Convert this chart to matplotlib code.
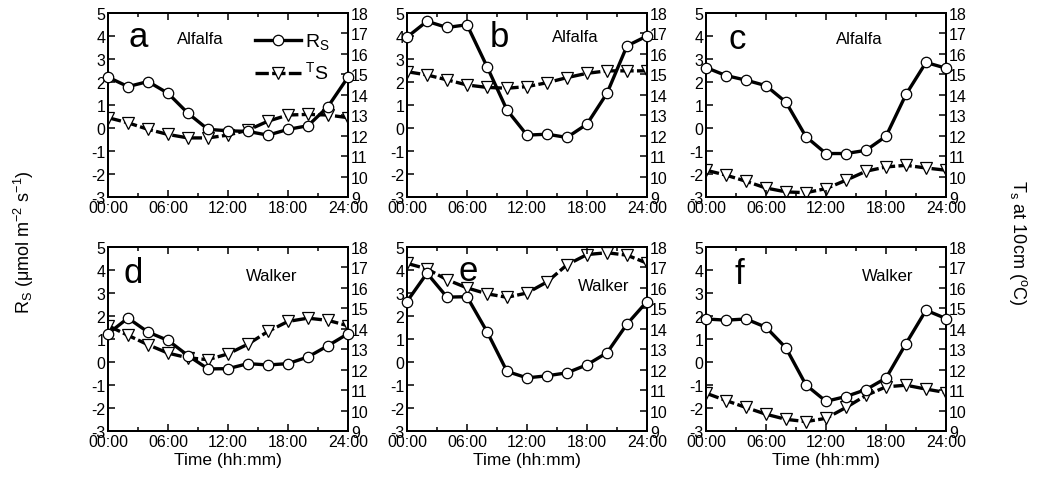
import matplotlib
matplotlib.use('Agg')
import matplotlib.pyplot as plt
from matplotlib.ticker import MultipleLocator, FixedLocator

plt.rcParams['font.family'] = ['Liberation Sans', 'DejaVu Sans']
plt.rcParams['mathtext.fontset'] = 'custom'
plt.rcParams['mathtext.rm'] = 'Liberation Sans'
plt.rcParams['axes.unicode_minus'] = False

hours = [0, 2, 4, 6, 8, 10, 12, 14, 16, 18, 20, 22, 24]
time_labels = ['00:00', '06:00', '12:00', '18:00', '24:00']
panel_letters = ['a', 'b', 'c', 'd', 'e', 'f']
site_names = ['Alfalfa', 'Alfalfa', 'Alfalfa', 'Walker', 'Walker', 'Walker']

# soil respiration (umol m-2 s-1)
rs_a = [2.21, 1.80, 2.02, 1.51, 0.64, -0.06, -0.12, -0.15, -0.31, -0.06, 0.10, 0.93, 2.21]
rs_b = [3.95, 4.64, 4.37, 4.49, 2.67, 0.78, -0.31, -0.27, -0.41, 0.17, 1.51, 3.57, 4.00]
rs_c = [2.63, 2.28, 2.08, 1.84, 1.12, -0.38, -1.11, -1.11, -0.97, -0.36, 1.46, 2.85, 2.60]
rs_d = [1.23, 1.91, 1.30, 0.94, 0.28, -0.30, -0.29, -0.07, -0.13, -0.07, 0.22, 0.71, 1.23]
rs_e = [2.63, 3.86, 2.82, 2.84, 1.32, -0.41, -0.69, -0.60, -0.47, -0.12, 0.40, 1.65, 2.63]
rs_f = [1.87, 1.82, 1.87, 1.51, 0.61, -1.00, -1.71, -1.50, -1.20, -0.70, 0.80, 2.25, 1.89]

# soil temperature at 10 cm (deg C)
ts_a = [12.88, 12.63, 12.31, 12.06, 11.89, 11.89, 12.03, 12.27, 12.71, 13.01, 13.04, 13.01, 12.88]
ts_b = [15.13, 14.97, 14.73, 14.48, 14.36, 14.32, 14.40, 14.59, 14.84, 15.05, 15.17, 15.17, 15.17]
ts_c = [10.31, 10.07, 9.77, 9.44, 9.25, 9.21, 9.41, 9.82, 10.26, 10.47, 10.55, 10.42, 10.31]
ts_d = [14.15, 13.68, 13.22, 12.81, 12.58, 12.49, 12.77, 13.25, 13.87, 14.36, 14.52, 14.41, 14.15]
ts_e = [17.20, 16.93, 16.40, 16.00, 15.71, 15.54, 15.75, 16.29, 17.13, 17.63, 17.72, 17.60, 17.21]
ts_f = [10.85, 10.49, 10.15, 9.82, 9.57, 9.46, 9.62, 10.15, 10.74, 11.16, 11.24, 11.05, 10.88]

rs_all = [rs_a, rs_b, rs_c, rs_d, rs_e, rs_f]
ts_all = [ts_a, ts_b, ts_c, ts_d, ts_e, ts_f]

# letter / site label positions in axes fraction
letter_pos = [(0.125, 0.82), (0.386, 0.82), (0.128, 0.81), (0.104, 0.81), (0.257, 0.82), (0.14, 0.805)]
site_pos = [(0.385, 0.836), (0.70, 0.847), (0.64, 0.836), (0.683, 0.818), (0.82, 0.768), (0.755, 0.822)]

fig = plt.figure(figsize=(10.46, 4.85), dpi=100)

lefts = [108 / 1046, 407 / 1046, 706 / 1046]
bottoms = [1 - 198 / 485, 1 - 432 / 485]
w = 240 / 1046
h = 184 / 485

lw = 2.4
ms = 7.5

for i in range(6):
    row = i // 3
    col = i % 3
    ax = fig.add_axes([lefts[col], bottoms[row], w, h])
    ax2 = ax.twinx()

    l2, = ax2.plot(hours, ts_all[i], color='black', lw=lw, ls=(0, (4, 1)),
                   marker='v', ms=ms + 0.7, mfc='white', mec='black', mew=0.9, zorder=3)
    l1, = ax.plot(hours, rs_all[i], color='black', lw=lw, marker='o', ms=ms,
                  mfc='white', mec='black', mew=0.9, zorder=3, clip_on=False)
    ax.set_zorder(ax2.get_zorder() + 1)
    ax.patch.set_visible(False)

    ax.set_xlim(0, 24)
    ax.set_ylim(-3, 5)
    ax2.set_ylim(9, 18)
    ax.xaxis.set_major_locator(FixedLocator([0, 6, 12, 18, 24]))
    ax.set_xticklabels(time_labels)
    ax.xaxis.set_minor_locator(MultipleLocator(3))
    ax.yaxis.set_major_locator(MultipleLocator(1))
    ax2.yaxis.set_major_locator(MultipleLocator(1))

    ax.tick_params(axis='both', which='both', direction='in', top=True, labelsize=11.5, pad=2)
    ax.tick_params(which='major', length=5, width=1.1)
    ax.tick_params(which='minor', length=3, width=1.1)
    ax2.tick_params(axis='y', direction='in', length=5, width=1.1, labelsize=11.5, pad=2)
    for s in ax.spines.values():
        s.set_linewidth(1.4)
    for s in ax2.spines.values():
        s.set_linewidth(1.4)

    ax.text(letter_pos[i][0], letter_pos[i][1], panel_letters[i], transform=ax.transAxes,
            fontsize=25, ha='center', va='baseline')
    ax.text(site_pos[i][0], site_pos[i][1], site_names[i], transform=ax.transAxes,
            fontsize=12, ha='center', va='baseline')

    if row == 1:
        ax.set_xlabel('Time (hh:mm)', fontsize=12.5, labelpad=2)

    if i == 0:
        ax.legend([l1, l2], ['R$_\\mathregular{S}$', '$^\\mathregular{T}\\mathregular{S}$'],
                  loc='upper left', bbox_to_anchor=(0.57, 0.95), frameon=False,
                  fontsize=14, handlelength=2.4, handletextpad=0.2, labelspacing=0.45,
                  borderpad=0)

fig.text(0.023, 0.5, 'R$_\\mathregular{S}$ ($\\mathregular{\\mu}$mol m$^\\mathregular{-2}$ s$^\\mathregular{-1}$)',
         rotation=90, va='center', ha='center', fontsize=13)
fig.text(0.973, 0.5, 'T$_\\mathregular{s}$ at 10cm ($^\\mathregular{o}$C)', rotation=-90,
         va='center', ha='center', fontsize=13)

fig.savefig('out.png', dpi=100)
